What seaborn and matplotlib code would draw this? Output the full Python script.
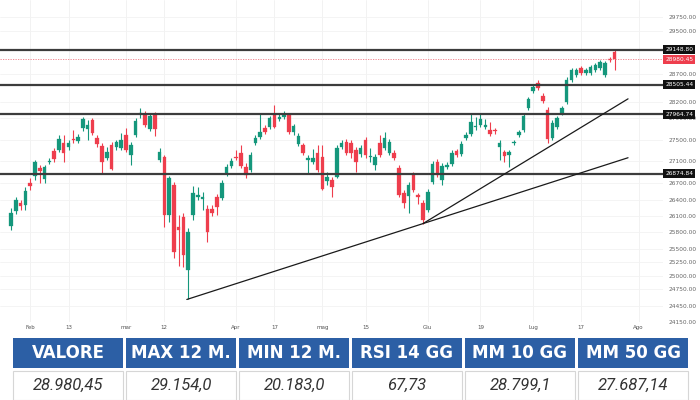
import numpy as np
import pandas as pd
import matplotlib
matplotlib.use("Agg")
import matplotlib.pyplot as plt
import matplotlib.transforms as mtransforms
from matplotlib.patches import Rectangle
import seaborn as sns

# ---------------- data ----------------
opens = [25921, 26196, 26343, 26306, 26710, 26838, 26985, 26783, 27095, 27297,
         27315, 27443, 27370, 27517, 27480, 27718, 27700, 27865, 27535, 27388,
         27168, 27407, 27370, 27352, 27590, 27223, 27590, 27975, 27957, 27700,
         27957, 27132, 27187, 26123, 26673, 25903, 26086, 25114, 26123, 26453,
         26416, 26233, 26233, 26453, 26435, 26875, 27022, 27187, 27260, 27003,
         26948, 27443, 27553, 27718, 27737, 27975, 27884, 27920, 27957, 27645,
         27425, 27407, 27132, 27095, 27260, 27187, 26746, 26765, 26820, 27370,
         27462, 27443, 27315, 27242, 27498, 27187, 27040, 27443, 27352, 27260,
         27260, 26985, 26526, 26471, 26856, 26490, 26343, 26215, 26728, 27095,
         26765, 27003, 27058, 27297, 27242, 27535, 27608, 27737, 27773, 27737,
         27682, 27682, 27370, 27278, 27223, 27443, 27590, 27682, 28085, 28397,
         28544, 28305, 28049, 27535, 27737, 27994, 28195, 28599, 28690, 28819,
         28727, 28727, 28782, 28819, 28690, 28984, 29112]
highs = [26251, 26453, 26398, 26636, 26801, 27132, 27040, 27040, 27168, 27352,
         27590, 27590, 27498, 27682, 27608, 27920, 27865, 27902, 27590, 27443,
         27370, 27462, 27498, 27627, 27718, 27462, 27902, 28085, 28030, 27994,
         28012, 27352, 27223, 26838, 26728, 26123, 26160, 25884, 26655, 26636,
         26545, 26306, 26306, 26508, 26765, 27058, 27168, 27315, 27407, 27077,
         27278, 27590, 27994, 27773, 27939, 28140, 27994, 28030, 27994, 27792,
         27627, 27443, 27223, 27333, 27407, 27407, 26912, 26820, 27407, 27498,
         27517, 27498, 27370, 27407, 27553, 27352, 27242, 27590, 27645, 27517,
         27315, 27040, 26581, 26728, 26912, 26526, 26398, 26600, 27113, 27150,
         27077, 27095, 27315, 27333, 27480, 27645, 27994, 27920, 27994, 27884,
         27829, 27718, 27498, 27315, 27315, 27498, 27682, 27975, 28287, 28525,
         28599, 28360, 28104, 27865, 27939, 28122, 28654, 28819, 28819, 28856,
         28819, 28874, 28911, 28966, 28948, 29020, 29154]
lows = [25848, 26141, 26215, 26215, 26581, 26765, 26710, 26710, 27058, 27095,
        27278, 27095, 27315, 27443, 27443, 27664, 27498, 27590, 27370, 26893,
        27132, 26948, 27315, 27315, 27278, 27040, 27553, 27902, 27737, 27664,
        27572, 27095, 25903, 25994, 25334, 25188, 25169, 24564, 26031, 26398,
        26215, 25628, 26105, 26123, 26398, 26838, 26985, 27132, 26985, 26801,
        26912, 27407, 27517, 27608, 27700, 27718, 27847, 27884, 27608, 27590,
        27388, 27223, 26893, 27058, 26912, 26581, 26673, 26453, 26801, 27333,
        27223, 27168, 26912, 27187, 27168, 27095, 26948, 27187, 27315, 27223,
        27132, 26453, 26251, 26160, 26545, 26325, 25958, 26178, 26691, 26820,
        26673, 26967, 27022, 27187, 27205, 27498, 27572, 27682, 27737, 27700,
        27572, 27608, 27132, 27095, 27003, 27407, 27553, 27645, 28049, 28360,
        28415, 28177, 27443, 27498, 27700, 27957, 28159, 28562, 28654, 28690,
        28690, 28690, 28746, 28782, 28654, 28929, 28782]
closes = [26160, 26398, 26288, 26563, 26655, 27095, 26930, 27003, 27113, 27150,
          27517, 27260, 27443, 27498, 27553, 27884, 27773, 27627, 27425, 27095,
          27278, 26967, 27462, 27498, 27315, 27407, 27847, 27994, 27773, 27939,
          27700, 27278, 26123, 26801, 25444, 25848, 25389, 25811, 26526, 26490,
          26453, 25811, 26160, 26270, 26710, 27003, 27113, 27168, 27022, 26856,
          27223, 27535, 27645, 27645, 27902, 27737, 27920, 27957, 27645, 27755,
          27572, 27260, 27168, 27168, 26948, 26600, 26820, 26636, 27352, 27443,
          27260, 27260, 27095, 27352, 27223, 27205, 27187, 27223, 27535, 27462,
          27168, 26490, 26343, 26673, 26581, 26453, 26031, 26545, 27058, 26856,
          27022, 27040, 27260, 27223, 27425, 27590, 27829, 27755, 27884, 27773,
          27608, 27664, 27443, 27205, 27278, 27462, 27645, 27939, 28250, 28470,
          28452, 28214, 27517, 27810, 27902, 28085, 28599, 28782, 28782, 28727,
          28782, 28837, 28874, 28929, 28911, 28966, 28980]

x_tick_pos = [4, 12, 24, 32, 47, 55, 65, 74, 87, 98, 109, 119, 131]
x_tick_labels = ["Feb", "13", "mar", "12", "Apr", "17", "mag", "15",
                 "Giu", "19", "Lug", "17", "Ago"]
y_ticks = [29750, 29500, 28700, 28200, 27900, 27500, 27100, 26700, 26400,
           26100, 25800, 25500, 25250, 25000, 24750, 24450, 24150]

levels = [29148.80, 28505.44, 27964.74, 26874.84]
last_price = 28980.45

trend1_x = [36.7, 128.8]
trend1_y = [24564, 27168]
trend2_x = [86.0, 128.8]
trend2_y = [25958, 28250]

table_headers = ["VALORE", "MAX 12 M.", "MIN 12 M.", "RSI 14 GG", "MM 10 GG", "MM 50 GG"]
table_values = ["28.980,45", "29.154,0", "20.183,0", "67,73", "28.799,1", "27.687,14"]

# ---------------- style ----------------
sns.set_theme(style="white")
plt.rcParams['font.family'] = ['DejaVu Sans']

GREEN = "#15977c"
RED = "#ee3e4d"
LEVEL_C = "#3c3c3c"

df = pd.DataFrame({"o": opens, "h": highs, "l": lows, "c": closes})
df["i"] = np.arange(len(df))
df["up"] = df["c"] >= df["o"]
df["col"] = np.where(df["up"], GREEN, RED)
df["bot"] = df[["o", "c"]].min(axis=1)
df["hgt"] = (df["c"] - df["o"]).abs().clip(lower=18)

W, H = 700, 400
fig = plt.figure(figsize=(7, 4), dpi=100)
fig.patch.set_facecolor("white")

ax_top, ax_bot, ax_right = 0, 322, 663
ax = fig.add_axes([0, 1 - ax_bot / H, ax_right / W, (ax_bot - ax_top) / H])
ax.set_facecolor("white")

# grid
for xp in x_tick_pos:
    ax.axvline(xp, color="#f0f0f0", lw=0.6, zorder=0)
for yv in y_ticks:
    ax.axhline(yv, color="#f3f3f3", lw=0.6, zorder=0)

# candles
ax.vlines(df["i"], df["l"], df["h"], colors=df["col"], lw=0.8, zorder=3)
ax.bar(df["i"], df["hgt"], bottom=df["bot"], width=0.74, color=df["col"],
       edgecolor=df["col"], linewidth=0.2, zorder=4)

# levels
for lv in levels:
    ax.axhline(lv, color=LEVEL_C, lw=1.6, zorder=5)
ax.axhline(last_price, color="#f07a84", lw=0.6, ls=(0, (1.5, 1.5)), zorder=5)

# trend lines
sns.lineplot(x=trend1_x, y=trend1_y, ax=ax, color="#1a1a1a", lw=0.9, zorder=6)
sns.lineplot(x=trend2_x, y=trend2_y, ax=ax, color="#1a1a1a", lw=0.9, zorder=6)

ax.set_xlim(-2.3, 136.1)
ax.set_ylim(24161, 30066)

for s in ax.spines.values():
    s.set_visible(False)

ax.set_xticks(x_tick_pos)
ax.set_xticklabels(x_tick_labels, fontsize=4, color="#555555")
ax.tick_params(axis="x", length=0, pad=2)
ax.yaxis.tick_right()
ax.set_yticks(y_ticks)
ax.set_yticklabels([f"{v:.2f}" for v in y_ticks], fontsize=4.2, color="#666666")
ax.tick_params(axis="y", length=0, pad=4)
ax.set_xlabel("")
ax.set_ylabel("")

trans = mtransforms.blended_transform_factory(ax.transAxes, ax.transData)
for lv in levels:
    ax.annotate(f"{lv:.2f}", xy=(1, lv), xycoords=trans, xytext=(1.5, 0),
                textcoords="offset points", ha="left", va="center",
                fontsize=4.2, color="white", annotation_clip=False, zorder=20,
                bbox=dict(boxstyle="square,pad=0.35", fc="#111111", ec="none"))
ax.annotate(f"{last_price:.2f}", xy=(1, last_price), xycoords=trans, xytext=(1.5, 0),
            textcoords="offset points", ha="left", va="center",
            fontsize=4.2, color="white", annotation_clip=False, zorder=20,
            bbox=dict(boxstyle="square,pad=0.35", fc=RED, ec="none"))

# ---------------- table ----------------
tax = fig.add_axes([0, 0, 1, 62 / H])
tax.set_xlim(0, W)
tax.set_ylim(400, 338)
tax.axis("off")
for k, (hd, vl) in enumerate(zip(table_headers, table_values)):
    x0 = 13 + k * 113
    w = 110
    tax.add_patch(Rectangle((x0, 338), w, 30, fc="#2c5fa5", ec="none"))
    tax.text(x0 + w / 2, 353.5, hd, ha="center", va="center", color="white",
             fontsize=12, fontweight="bold")
    tax.add_patch(Rectangle((x0, 370.5), w, 29, fc="white", ec="#d6d6d6", lw=0.8))
    tax.text(x0 + w / 2, 385, vl, ha="center", va="center", color="#333333",
             fontsize=12, style="italic", family=["Roboto", "DejaVu Sans"])

fig.savefig("out.png", dpi=100, facecolor="white")
